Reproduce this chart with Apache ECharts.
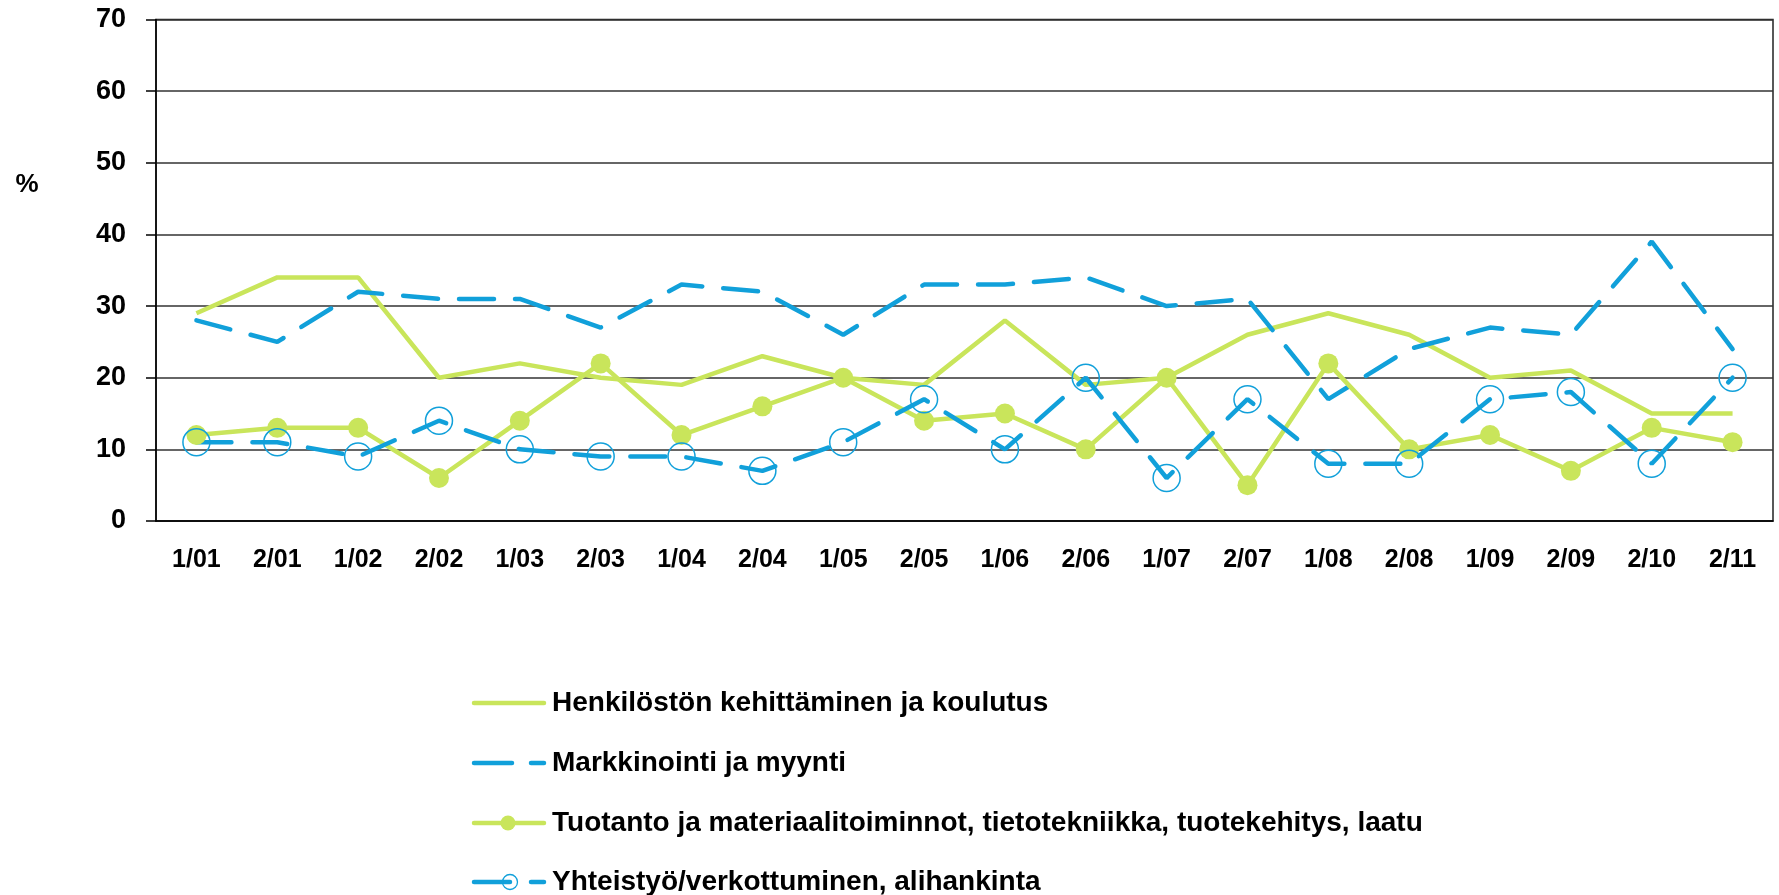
<!DOCTYPE html>
<html lang="fi">
<head>
    <meta charset="UTF-8">
    <title>Kehittämiskohteet</title>
    <style>
        html, body { margin: 0; padding: 0; background: #fff; }
        #main { width: 1779px; height: 895px; }
    </style>
</head>
<body>
<div id="main"></div>
<script src="https://cdn.jsdelivr.net/npm/echarts@6/dist/echarts.min.js"></script>
<script>
    // kyselykierrokset
    const categories = ['1/01', '2/01', '1/02', '2/02', '1/03', '2/03', '1/04', '2/04', '1/05', '2/05',
        '1/06', '2/06', '1/07', '2/07', '1/08', '2/08', '1/09', '2/09', '2/10', '2/11'];
    const seriesNames = [
        'Henkilöstön kehittäminen ja koulutus',
        'Markkinointi ja myynti',
        'Tuotanto ja materiaalitoiminnot, tietotekniikka, tuotekehitys, laatu',
        'Yhteistyö/verkottuminen, alihankinta'
    ];
    const henkilosto = [29, 34, 34, 20, 22, 20, 19, 23, 20, 19, 28, 19, 20, 26, 29, 26, 20, 21, 15, 15];
    const markkinointi = [28, 25, 32, 31, 31, 27, 33, 32, 26, 33, 33, 34, 30, 31, 17, 24, 27, 26, 39, 24];
    const tuotanto = [12, 13, 13, 6, 14, 22, 12, 16, 20, 14, 15, 10, 20, 5, 22, 10, 12, 7, 13, 11];
    const yhteistyo = [11, 11, 9, 14, 10, 9, 9, 7, 11, 17, 10, 20, 6, 17, 8, 8, 17, 18, 8, 20];

    const green = '#c9e55b';
    const blue = '#11a0da';
    const font = '"Liberation Sans", Arial, sans-serif';
    const dash = [35, 21];

    // selite piirretään käsin, jotta viivatyylit näkyvät kuten alkuperäisessä
    const legendX = 474, legendTextX = 552;
    const legendRows = [703, 763, 823, 882];

    function legendGraphics() {
        const g = [];
        const seg = (x1, x2, y, color) => ({
            type: 'line', shape: { x1: x1, y1: y, x2: x2, y2: y },
            style: { stroke: color, lineWidth: 4.5, lineCap: 'round' }
        });
        let y = legendRows[0];
        g.push(seg(legendX, legendX + 70, y, green));
        y = legendRows[1];
        g.push(seg(legendX, legendX + 38, y, blue), seg(legendX + 57, legendX + 70, y, blue));
        y = legendRows[2];
        g.push(seg(legendX, legendX + 70, y, green));
        g.push({ type: 'circle', shape: { cx: legendX + 34, cy: y, r: 7.5 }, style: { fill: green } });
        y = legendRows[3];
        g.push(seg(legendX, legendX + 36, y, blue), seg(legendX + 57, legendX + 70, y, blue));
        g.push({ type: 'circle', shape: { cx: legendX + 36, cy: y, r: 7.5 },
            style: { fill: 'transparent', stroke: blue, lineWidth: 1.3 } });
        seriesNames.forEach((name, i) => {
            g.push({
                type: 'text', x: legendTextX, y: legendRows[i],
                style: { text: name, font: 'bold 28px ' + font, fill: '#000', verticalAlign: 'middle' }
            });
        });
        return g;
    }

    const chart = echarts.init(document.getElementById('main'));
    chart.setOption({
        animation: false,
        textStyle: { fontFamily: font },
        grid: {
            left: 156, right: 6, top: 19.5, bottom: 374,
            show: true, borderColor: '#222', borderWidth: 1.5
        },
        graphic: [{
            type: 'text', x: 27, y: 185,
            style: { text: '%', font: 'bold 26px ' + font, fill: '#000', align: 'center', verticalAlign: 'middle' }
        }].concat(legendGraphics()),
        xAxis: {
            type: 'category',
            data: categories,
            boundaryGap: true,
            axisLine: { lineStyle: { color: '#000', width: 1.5 } },
            axisTick: { show: false },
            axisLabel: { color: '#000', fontWeight: 'bold', fontSize: 25, margin: 27 }
        },
        yAxis: {
            type: 'value',
            min: 0, max: 70, interval: 10,
            axisLine: { show: true, lineStyle: { color: '#000', width: 1.5 } },
            axisTick: { show: true, length: 10, lineStyle: { color: '#000', width: 1.5 } },
            axisLabel: { color: '#000', fontWeight: 'bold', fontSize: 27, margin: 30 },
            splitLine: { lineStyle: { color: '#333', width: 1.5 } }
        },
        series: [
            {
                name: seriesNames[0], type: 'line', data: henkilosto,
                symbol: 'none',
                lineStyle: { color: green, width: 4.5 },
                itemStyle: { color: green }
            },
            {
                name: seriesNames[1], type: 'line', data: markkinointi,
                symbol: 'none',
                lineStyle: { color: blue, width: 4.5, type: dash, cap: 'round' },
                itemStyle: { color: blue }
            },
            {
                name: seriesNames[2], type: 'line', data: tuotanto,
                symbol: 'circle', symbolSize: 20,
                lineStyle: { color: green, width: 4.5 },
                itemStyle: { color: green }
            },
            {
                name: seriesNames[3], type: 'line', data: yhteistyo,
                symbol: 'circle', symbolSize: 27,
                lineStyle: { color: blue, width: 4.5, type: dash, cap: 'round' },
                itemStyle: { color: 'rgba(255,255,255,0)', borderColor: blue, borderWidth: 1.5 }
            }
        ]
    });
</script>
</body>
</html>
